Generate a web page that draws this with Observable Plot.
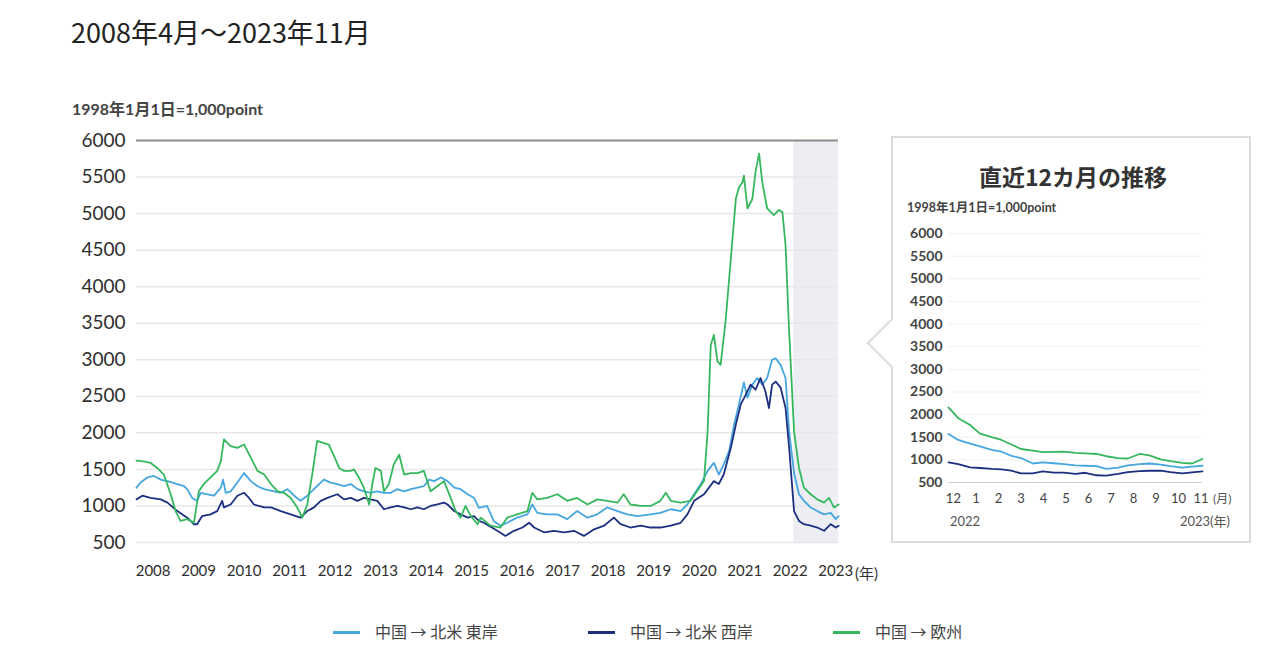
<!DOCTYPE html>
<html><head><meta charset="utf-8">
<script src="https://cdn.jsdelivr.net/npm/d3@7"></script>
<script src="https://cdn.jsdelivr.net/npm/@observablehq/plot@0.6"></script>
<style>
body{margin:0;background:#fff;width:1279px;height:645px;position:relative;overflow:hidden;font-family:Lato,"Noto Sans CJK JP",sans-serif;color:#333}
.abs{position:absolute;white-space:nowrap;line-height:1}
#main{position:absolute;left:0;top:0}
#inset{position:absolute;left:890px;top:200px}
.box{position:absolute;left:891px;top:136px;width:356px;height:403px;border:2px solid #dcdcdc;background:#fff}
.ptr{position:absolute;left:874px;top:325px;width:34px;height:34px;background:#fff;border-left:2px solid #dcdcdc;border-bottom:2px solid #dcdcdc;transform:rotate(45deg)}
.sw{position:absolute;height:3px;width:27px}
.lg{font-size:16px;color:#444;font-family:"Noto Sans CJK JP",sans-serif}
</style></head><body>
<div class="abs" style="left:71px;top:18px;font-size:27px;color:#222;font-family:'Noto Sans CJK JP',sans-serif">2008年4月～2023年11月</div>
<div class="abs" style="left:72px;top:101px;font-size:16px;font-weight:bold;color:#444">1998年1月1日=1,000point</div>
<div id="main"></div>
<div class="abs" style="left:855px;top:566px;font-size:15px;color:#333">(年)</div>

<div class="box"></div>
<div class="ptr"></div>
<div class="abs" style="left:1073px;top:165px;transform:translateX(-50%);font-size:23px;font-weight:bold;color:#333;font-family:'Noto Sans CJK JP',sans-serif">直近12カ月の推移</div>
<div class="abs" style="left:907px;top:202px;font-size:12.5px;font-weight:bold;color:#444">1998年1月1日=1,000point</div>
<div id="inset"></div>
<div class="abs" style="left:1213px;top:493px;font-size:12px;color:#555">(月)</div>
<div class="abs" style="left:965px;top:515px;transform:translateX(-50%);font-size:13px;color:#555">2022</div>
<div class="abs" style="left:1205px;top:515px;transform:translateX(-50%);font-size:13px;color:#555">2023(年)</div>

<div id="legend"></div>
<script>
// ---- main chart data (decimal year, index 1998-01-01 = 1000) ----
const seriesNames = ["中国 → 北米 東岸", "中国 → 北米 西岸", "中国 → 欧州"];
const seriesColors = ["#46a6de", "#1d2f7f", "#35b85d"];

const eastT = [2008.25,2008.34,2008.49,2008.64,2008.79,2008.94,2009.16,2009.31,2009.38,2009.49,
 2009.60,2009.68,2009.83,2009.98,2010.13,2010.18,2010.24,2010.35,2010.50,2010.65,
 2010.80,2010.95,2011.10,2011.32,2011.47,2011.62,2011.77,2011.91,2012.06,2012.21,
 2012.36,2012.43,2012.58,2012.73,2012.88,2013.03,2013.18,2013.32,2013.47,2013.62,
 2013.77,2013.92,2014.07,2014.22,2014.37,2014.52,2014.66,2014.78,2014.89,2015.04,
 2015.19,2015.34,2015.48,2015.64,2015.78,2015.89,2016.07,2016.22,2016.37,2016.52,
 2016.74,2016.97,2017.08,2017.19,2017.41,2017.64,2017.86,2018.08,2018.31,2018.53,
 2018.75,2018.98,2019.20,2019.42,2019.72,2019.94,2020.17,2020.39,2020.54,2020.69,
 2020.84,2020.99,2021.13,2021.24,2021.35,2021.47,2021.58,2021.69,2021.80,2021.88,
 2021.99,2022.10,2022.21,2022.32,2022.43,2022.51,2022.62,2022.73,2022.81,2022.92,
 2023.03,2023.14,2023.29,2023.44,2023.59,2023.74,2023.85,2023.915];
const eastV = [1250,1320,1390,1410,1360,1340,1300,1270,1230,1110,
 1070,1180,1160,1140,1250,1360,1180,1200,1320,1450,
 1340,1270,1230,1200,1180,1230,1140,1070,1140,1230,
 1320,1360,1320,1300,1270,1300,1230,1200,1180,1200,
 1180,1180,1230,1200,1230,1250,1270,1360,1340,1390,
 1340,1250,1230,1160,1110,975,1000,795,730,770,
 840,885,1020,905,885,885,820,930,840,885,
 980,930,885,860,885,905,955,930,1020,1160,
 1300,1480,1590,1430,1570,1750,2110,2390,2690,2480,
 2660,2750,2660,2750,3000,3020,2930,2750,2020,1450,
 1160,1070,980,930,885,905,820,860];

const westT = [2008.25,2008.38,2008.56,2008.79,2008.94,2009.16,2009.38,2009.53,2009.60,2009.71,
 2009.90,2010.05,2010.16,2010.20,2010.35,2010.50,2010.65,2010.76,2010.87,2011.10,
 2011.25,2011.47,2011.69,2011.91,2012.06,2012.21,2012.36,2012.51,2012.73,2012.88,
 2013.03,2013.18,2013.32,2013.47,2013.62,2013.77,2013.92,2014.07,2014.22,2014.37,
 2014.52,2014.66,2014.81,2014.96,2015.11,2015.19,2015.34,2015.48,2015.64,2015.78,
 2015.89,2016.00,2016.30,2016.48,2016.67,2016.86,2017.01,2017.12,2017.34,2017.56,
 2017.79,2018.01,2018.23,2018.46,2018.68,2018.90,2019.05,2019.27,2019.50,2019.72,
 2019.94,2020.17,2020.39,2020.54,2020.69,2020.91,2021.13,2021.24,2021.35,2021.51,
 2021.62,2021.73,2021.84,2021.95,2022.06,2022.17,2022.28,2022.36,2022.43,2022.51,
 2022.62,2022.73,2022.81,2022.92,2023.03,2023.14,2023.29,2023.44,2023.59,2023.74,
 2023.85,2023.915];
const westV = [1090,1140,1110,1090,1045,930,840,750,750,860,
 885,930,1070,980,1020,1140,1180,1110,1020,980,
 980,930,885,840,930,980,1070,1110,1160,1090,
 1110,1070,1110,1090,1070,955,980,1000,980,955,
 980,955,1000,1020,1045,1020,930,885,840,860,
 795,770,660,590,660,705,770,705,640,660,
 640,660,590,680,730,840,750,705,730,705,
 705,730,770,885,1070,1160,1340,1300,1430,1800,
 2110,2390,2520,2660,2590,2750,2570,2340,2660,2700,
 2620,2340,1800,930,795,750,730,705,660,750,
 705,730];

const euroT = [2008.25,2008.41,2008.56,2008.71,2008.86,2009.01,2009.12,2009.23,2009.38,2009.53,
 2009.64,2009.75,2009.90,2010.05,2010.13,2010.20,2010.35,2010.50,2010.65,2010.80,
 2010.95,2011.10,2011.25,2011.40,2011.54,2011.69,2011.84,2011.95,2012.06,2012.17,
 2012.28,2012.43,2012.54,2012.66,2012.77,2012.88,2013.03,2013.10,2013.21,2013.32,
 2013.44,2013.51,2013.58,2013.70,2013.77,2013.88,2013.99,2014.11,2014.22,2014.37,
 2014.52,2014.66,2014.81,2014.96,2015.11,2015.26,2015.37,2015.48,2015.59,2015.71,
 2015.86,2015.93,2016.15,2016.37,2016.52,2016.74,2016.97,2017.08,2017.19,2017.41,
 2017.64,2017.86,2018.08,2018.31,2018.53,2018.75,2018.98,2019.12,2019.27,2019.50,
 2019.72,2019.94,2020.06,2020.17,2020.39,2020.61,2020.76,2020.91,2020.99,2021.06,
 2021.13,2021.21,2021.28,2021.39,2021.51,2021.62,2021.69,2021.77,2021.80,2021.88,
 2021.99,2022.06,2022.14,2022.21,2022.32,2022.47,2022.58,2022.66,2022.73,2022.81,
 2022.92,2023.03,2023.14,2023.29,2023.44,2023.59,2023.70,2023.81,2023.915];
const euroV = [1620,1610,1590,1520,1430,1160,930,795,820,770,
 1200,1300,1390,1480,1610,1910,1820,1795,1840,1660,
 1480,1430,1300,1200,1180,1110,975,840,1020,1430,
 1890,1860,1840,1680,1520,1480,1480,1500,1390,1250,
 1020,1300,1520,1480,1200,1300,1570,1700,1430,1450,
 1450,1480,1200,1270,1340,1110,930,840,1000,860,
 750,840,730,705,840,885,930,1180,1090,1110,
 1160,1070,1110,1020,1090,1070,1045,1160,1020,1000,
 1000,1070,1180,1070,1045,1070,1205,1340,2020,3200,
 3340,2980,2930,3520,4390,5200,5360,5430,5520,5070,
 5200,5570,5820,5430,5070,4980,5050,5020,4570,3390,
 2020,1520,1250,1160,1090,1045,1110,980,1020];

const yTicks = [500,1000,1500,2000,2500,3000,3500,4000,4500,5000,5500,6000];
const yearLabels = [2008,2009,2010,2011,2012,2013,2014,2015,2016,2017,2018,2019,2020,2021,2022,2023];

// ---- inset (last 12 months) ----
const insetDates = ["2022-12-01","2022-12-15","2023-01-01","2023-01-15","2023-02-01","2023-02-15","2023-03-01","2023-03-15","2023-04-01","2023-04-15","2023-05-01","2023-05-15","2023-06-01","2023-06-15","2023-07-01","2023-07-15","2023-08-01","2023-08-15","2023-09-01","2023-09-15","2023-10-01","2023-10-15","2023-11-01","2023-11-15","2023-11-30"];
const insetEast = [1570,1440,1360,1300,1220,1180,1090,1040,920,945,925,905,880,870,860,800,830,880,905,920,895,860,830,850,870];
const insetWest = [945,905,835,820,800,790,760,700,700,745,720,720,690,715,660,650,690,730,750,760,760,730,700,725,745];
const insetEuro = [2160,1920,1770,1580,1500,1440,1340,1240,1205,1170,1175,1180,1155,1145,1130,1080,1040,1030,1130,1100,1010,970,935,920,1020];
const monthLabels = ["12","1","2","3","4","5","6","7","8","9","10","11"];

// ---- helpers ----
function dec2date(t){const y=Math.floor(t);const s=Date.UTC(y,0,1),e=Date.UTC(y+1,0,1);return new Date(s+(t-y)*(e-s));}
function build(T,V,name){return T.map((t,i)=>({date:dec2date(t),v:V[i],name}));}
function spread(a, b, n){ // n evenly spaced instants between dates a and b
  return d3.range(n).map(i => new Date(+a + (b - a) * i / (n - 1)));
}
const mainData = [
  ...build(eastT,eastV,seriesNames[0]),
  ...build(westT,westV,seriesNames[1]),
  ...build(euroT,euroV,seriesNames[2])
];
const start = dec2date(2008.25), end = new Date(Date.UTC(2023,10,30));
const shadeStart = new Date(Date.UTC(2022,11,1));
// year labels are spaced evenly under the plot (as in the source artwork)
const yearTickDates = spread(dec2date(2008.62), dec2date(2023.85), yearLabels.length);
const font = "Lato, 'Noto Sans CJK JP', sans-serif";
const color = d3.scaleOrdinal(seriesNames, seriesColors);

const main = Plot.plot({
  width: 900, height: 600,
  marginLeft: 136, marginRight: 62, marginTop: 140, marginBottom: 58,
  style: {fontFamily: font, color: "#2e2e2e", background: "transparent", overflow: "visible"},
  x: {type: "utc", domain: [start, end]},
  y: {domain: [500, 6000]},
  marks: [
    Plot.rect([0], {x1: () => shadeStart, x2: () => end, y1: () => 500, y2: () => 6000, fill: "#eceef4"}),
    Plot.ruleY(yTicks.filter(v => v < 6000), {stroke: "#e7e7e7", strokeWidth: 1.5}),
    Plot.ruleY([6000], {stroke: "#8c8c8c", strokeWidth: 2}),
    Plot.axisY({ticks: yTicks, tickSize: 0, tickPadding: 11, fontSize: 19, label: null, tickFormat: d => String(d)}),
    Plot.axisX({ticks: yearTickDates, tickFormat: (d, i) => String(yearLabels[i]), tickSize: 0, tickPadding: 23, fontSize: 15, label: null}),
    Plot.line(mainData, {x: "date", y: "v", z: "name", stroke: d => color(d.name), strokeWidth: 1.8, curve: "linear"})
  ]
});
document.getElementById("main").append(main);

const insetData = [
  ...insetDates.map((d,i)=>({date:new Date(d+"T00:00:00Z"), v:insetEast[i], name:seriesNames[0]})),
  ...insetDates.map((d,i)=>({date:new Date(d+"T00:00:00Z"), v:insetWest[i], name:seriesNames[1]})),
  ...insetDates.map((d,i)=>({date:new Date(d+"T00:00:00Z"), v:insetEuro[i], name:seriesNames[2]}))
];
const iStart = new Date(Date.UTC(2022,11,1)), iEnd = new Date(Date.UTC(2023,10,30));
const monthTicks = spread(new Date(Date.UTC(2022,11,8)), new Date(Date.UTC(2023,10,28)), monthLabels.length);
const inset = Plot.plot({
  width: 340, height: 320,
  marginLeft: 58, marginRight: 28, marginTop: 33, marginBottom: 38,
  style: {fontFamily: font, color: "#444", background: "transparent", overflow: "visible"},
  x: {type: "utc", domain: [iStart, iEnd]},
  y: {domain: [500, 6000]},
  marks: [
    Plot.ruleY(yTicks.filter(v => v > 500), {stroke: "#f1f1f1", strokeWidth: 1}),
    Plot.ruleY([500], {stroke: "#cfcfcf", strokeWidth: 1}),
    Plot.axisY({ticks: yTicks, tickSize: 0, tickPadding: 6, fontSize: 14, fontWeight: "bold", label: null, tickFormat: d => String(d)}),
    Plot.axisX({ticks: monthTicks, tickFormat: (d,i) => monthLabels[i], tickSize: 0, tickPadding: 11, fontSize: 13, label: null}),
    Plot.line(insetData, {x: "date", y: "v", z: "name", stroke: d => color(d.name), strokeWidth: 1.8})
  ]
});
document.getElementById("inset").append(inset);

// legend
const legendLeft = [333, 588, 833];
const lg = document.getElementById("legend");
seriesNames.forEach((n,i)=>{
  const sw = document.createElement("div");
  sw.className = "sw"; sw.style.left = legendLeft[i]+"px"; sw.style.top = "631px"; sw.style.background = seriesColors[i];
  const t = document.createElement("div");
  t.className = "abs lg"; t.style.left = (legendLeft[i]+42)+"px"; t.style.top = "623px"; t.textContent = n;
  lg.append(sw, t);
});
</script>
</body></html>
